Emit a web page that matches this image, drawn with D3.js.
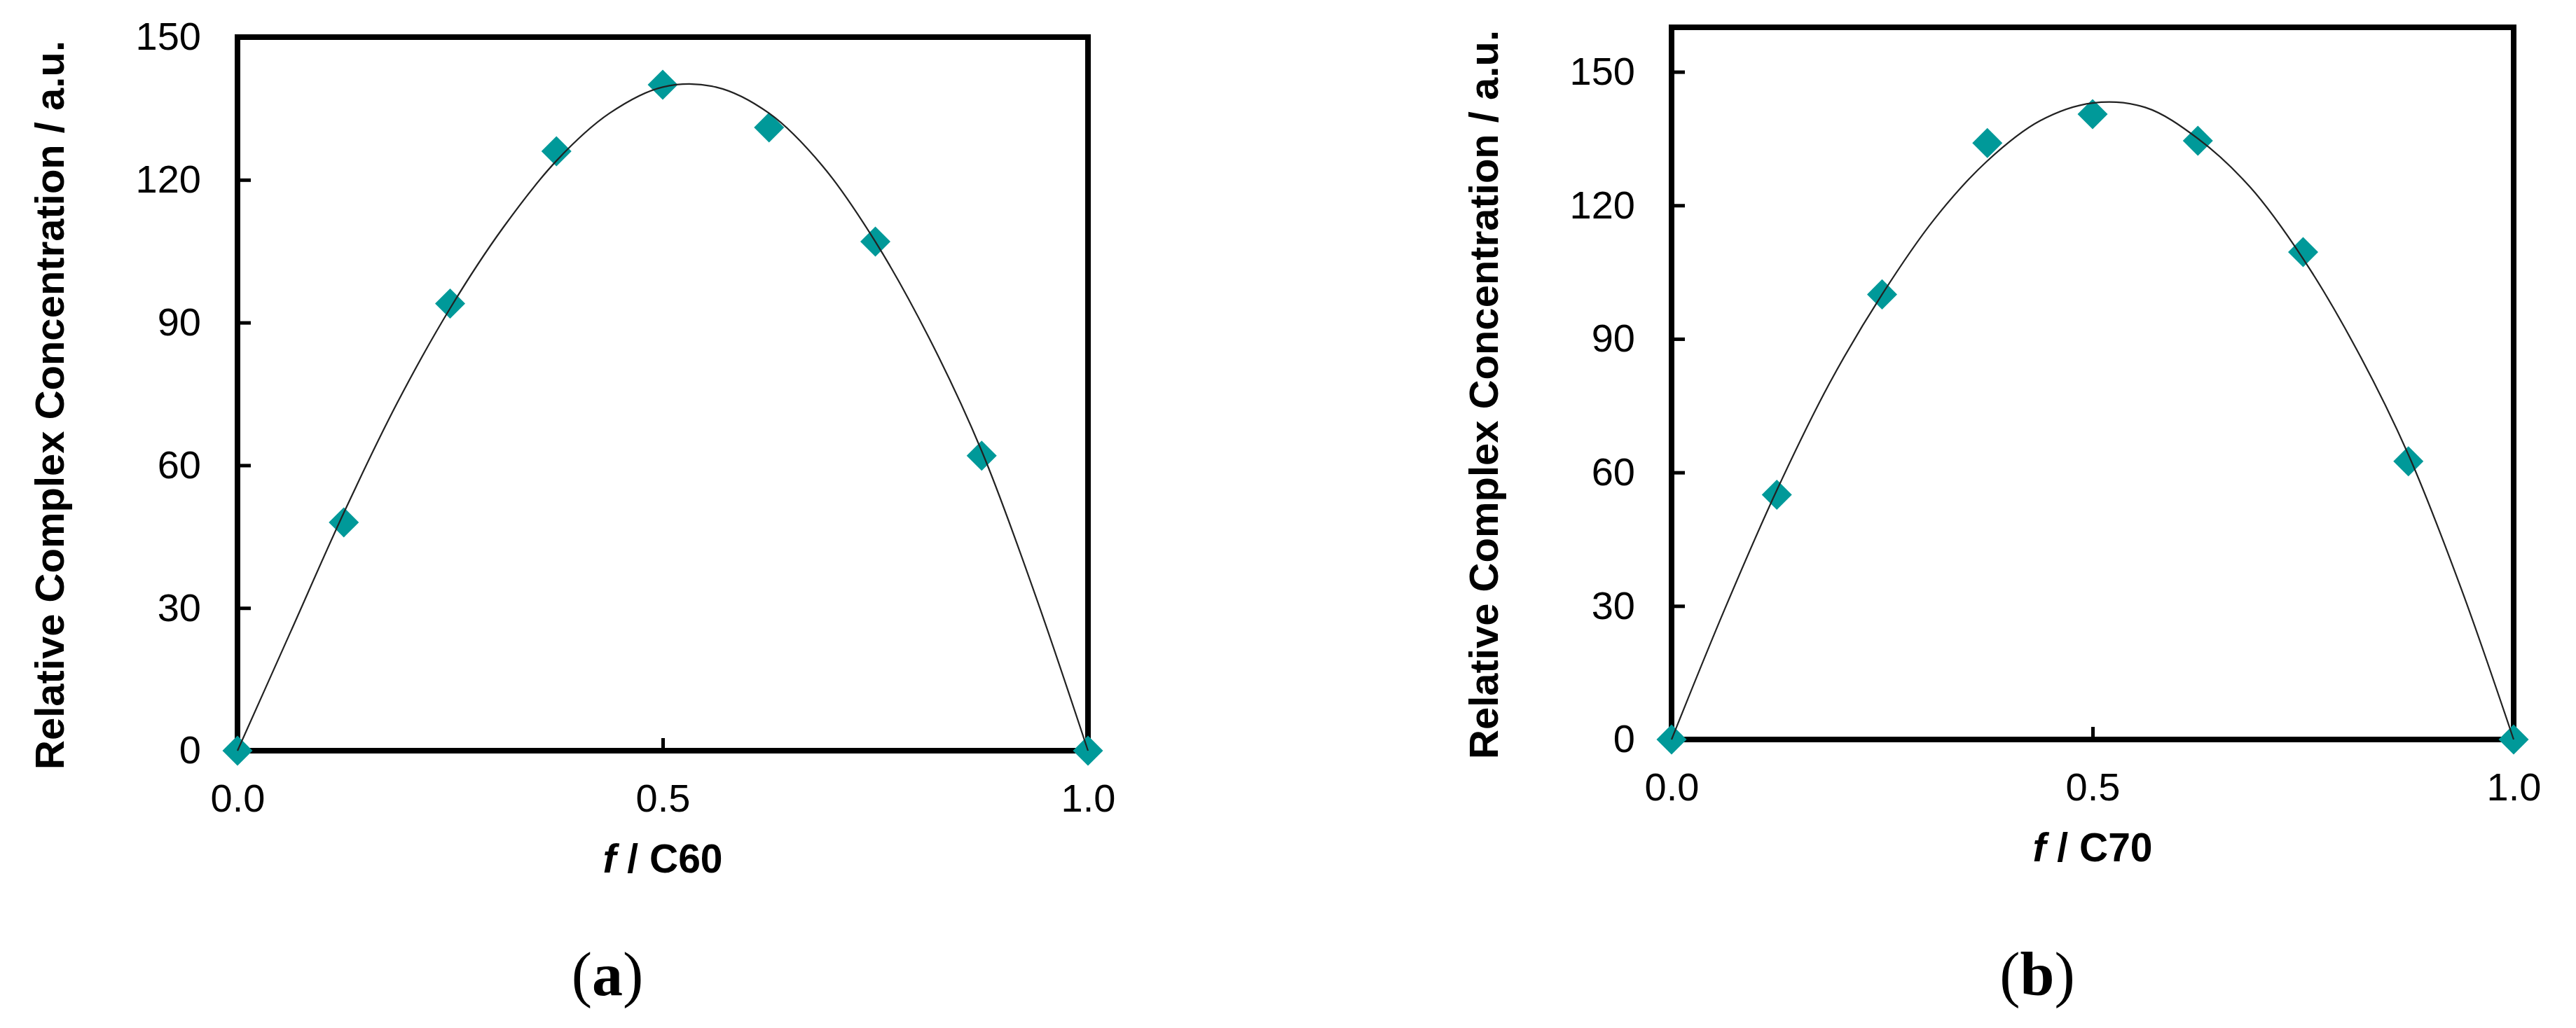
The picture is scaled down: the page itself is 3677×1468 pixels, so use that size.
<!DOCTYPE html>
<html>
<head>
<meta charset="utf-8">
<script src="https://cdn.jsdelivr.net/npm/d3@7"></script>
<style>
  html, body { margin: 0; padding: 0; background: #fff; }
  svg { display: block; }
</style>
</head>
<body>
<svg id="chart" width="3677" height="1468"></svg>
<script>
// ---------- DATA ----------
const moleFraction = [0, 0.125, 0.25, 0.375, 0.5, 0.625, 0.75, 0.875, 1.0];
const c60Values = [0, 48, 94, 126, 140, 131, 107, 62, 0];
const c70Values = [0, 55, 100, 134, 140.5, 134.5, 109.5, 62.5, 0];

// trend (fit) line
const fitX = [0, 0.0625, 0.125, 0.1875, 0.25, 0.3125, 0.375, 0.4375, 0.5, 0.5625, 0.625, 0.6875, 0.75, 0.8125, 0.875, 0.9375, 1.0];
const fitC60 = [0, 25, 50, 73, 93, 110, 124, 134, 139.5, 139.5, 134, 123, 107, 87, 63, 33, 0];
const fitC70 = [0, 29, 56, 80, 100, 117, 130, 139, 143, 142, 135, 124, 108, 88, 64, 34, 0];

const yTickValues = [0, 30, 60, 90, 120, 150];
const xTickValues = [0, 0.5, 1.0];
const yTitle = "Relative Complex Concentration / a.u.";
const xTitleA = "C60";
const xTitleB = "C70";
const panelLabels = ["a", "b"];

// ---------- LAYOUT ----------
const panels = [
  { left: 339, right: 1553, top: 53, bottom: 1072, yMax: 150, values: c60Values, fit: fitC60, xName: xTitleA, label: panelLabels[0] },
  { left: 2386, right: 3588, top: 39, bottom: 1056, yMax: 160, values: c70Values, fit: fitC70, xName: xTitleB, label: panelLabels[1] }
];

const svg = d3.select("#chart");
const SANS = "'Liberation Sans', Arial, sans-serif";
const SERIF = "'Liberation Serif', 'Times New Roman', serif";
const teal = "#009999";

panels.forEach(p => {
  const x = d3.scaleLinear().domain([0, 1]).range([p.left, p.right]);
  const y = d3.scaleLinear().domain([0, p.yMax]).range([p.bottom, p.top]);
  const g = svg.append("g");

  // y axis ticks (inward) + labels
  const yAxis = d3.axisLeft(y).tickValues(yTickValues).tickFormat(d3.format("d"))
    .tickSizeInner(-19).tickSizeOuter(0).tickPadding(52);
  const ya = g.append("g").attr("transform", `translate(${p.left},0)`).call(yAxis);
  ya.select(".domain").remove();
  ya.selectAll(".tick line").attr("stroke", "#000").attr("stroke-width", 5);
  ya.selectAll(".tick text").attr("font-family", SANS).attr("font-size", 56).attr("fill", "#000");

  // x axis ticks (inward) + labels
  const xAxis = d3.axisBottom(x).tickValues(xTickValues).tickFormat(d3.format(".1f"))
    .tickSizeInner(-18).tickSizeOuter(0).tickPadding(47);
  const xa = g.append("g").attr("transform", `translate(0,${p.bottom})`).call(xAxis);
  xa.select(".domain").remove();
  xa.selectAll(".tick line").attr("stroke", "#000").attr("stroke-width", 5);
  xa.selectAll(".tick text").attr("font-family", SANS).attr("font-size", 56).attr("fill", "#000");

  // plot box
  g.append("rect")
    .attr("x", p.left).attr("y", p.top)
    .attr("width", p.right - p.left).attr("height", p.bottom - p.top)
    .attr("fill", "none").attr("stroke", "#000").attr("stroke-width", 8);

  // markers
  const sym = d3.symbol().type(d3.symbolSquare).size(925);
  g.selectAll("path.pt").data(moleFraction.map((f, i) => [f, p.values[i]]))
    .join("path").attr("class", "pt")
    .attr("d", sym)
    .attr("transform", d => `translate(${x(d[0])},${y(d[1])}) rotate(45)`)
    .attr("fill", teal);

  // fit line
  const line = d3.line().x(d => x(d[0])).y(d => y(d[1])).curve(d3.curveCatmullRom.alpha(0.5));
  g.append("path")
    .datum(fitX.map((f, i) => [f, p.fit[i]]))
    .attr("d", line)
    .attr("fill", "none").attr("stroke", "#222").attr("stroke-width", 2.2);

  // y title
  const cy = (p.top + p.bottom) / 2 + 16;
  g.append("text")
    .attr("transform", `translate(${p.left - 248},${cy}) rotate(-90)`)
    .attr("text-anchor", "middle")
    .attr("font-family", SANS).attr("font-weight", "bold").attr("font-size", 58)
    .text(yTitle);

  // x title
  const xt = g.append("text")
    .attr("x", (p.left + p.right) / 2).attr("y", p.bottom + 174)
    .attr("text-anchor", "middle")
    .attr("font-family", SANS).attr("font-weight", "bold").attr("font-size", 57);
  xt.append("tspan").attr("font-style", "italic").text("f");
  xt.append("tspan").text(" / " + p.xName);

  // panel label
  const pl = g.append("text")
    .attr("x", (p.left + p.right) / 2 - 79).attr("y", 1421)
    .attr("text-anchor", "middle")
    .attr("font-family", SERIF).attr("font-size", 88);
  pl.append("tspan").text("(");
  pl.append("tspan").attr("font-weight", "bold").text(p.label);
  pl.append("tspan").text(")");
});
</script>
</body>
</html>
